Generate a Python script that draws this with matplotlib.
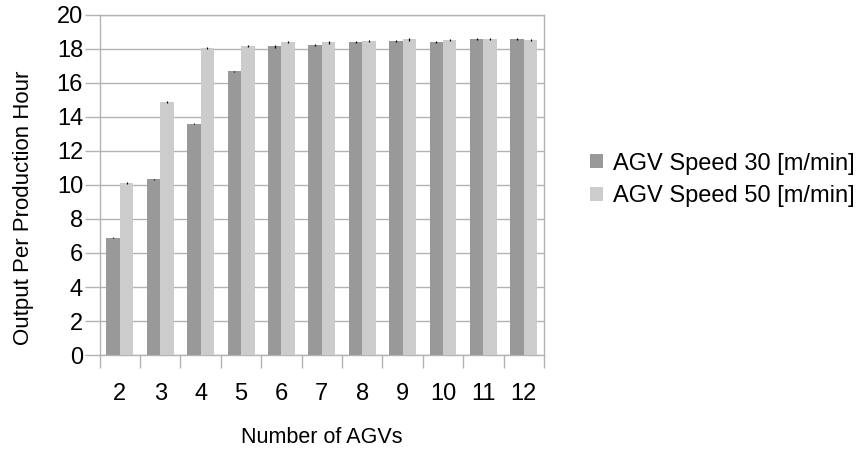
import matplotlib.pyplot as plt
import numpy as np

plt.rcParams['font.family'] = ['Liberation Sans', 'DejaVu Sans']

# number of AGVs on the x axis
agv_counts = ["2", "3", "4", "5", "6", "7", "8", "9", "10", "11", "12"]

# output per production hour for each AGV speed
speed30 = [6.9, 10.33, 13.6, 16.67, 18.15, 18.25, 18.42, 18.47, 18.4, 18.57, 18.57]
speed50 = [10.1, 14.88, 18.05, 18.15, 18.42, 18.38, 18.45, 18.57, 18.52, 18.58, 18.52]

# small error bars on top of each bar
err30 = [0.04, 0.03, 0.04, 0.05, 0.08, 0.06, 0.07, 0.08, 0.08, 0.07, 0.06]
err50 = [0.05, 0.05, 0.07, 0.06, 0.07, 0.08, 0.07, 0.08, 0.08, 0.08, 0.08]

fig = plt.figure(figsize=(8.56, 4.5), dpi=100)
ax = fig.add_axes([0.1165, 0.211, 0.519, 0.756])

x = np.arange(len(agv_counts))
w = 1 / 3
grid_col = "#b3b3b3"

ax.bar(x - w / 2, speed30, w, color="#999999", label="AGV Speed 30 [m/min]",
       yerr=err30, error_kw=dict(ecolor="black", elinewidth=0.9, capsize=0), zorder=3)
ax.bar(x + w / 2, speed50, w, color="#cccccc", label="AGV Speed 50 [m/min]",
       yerr=err50, error_kw=dict(ecolor="black", elinewidth=0.9, capsize=0), zorder=3)

ax.set_xlim(-0.5, len(agv_counts) - 0.5)
ax.set_ylim(0, 20)
ax.set_yticks(np.arange(0, 21, 2))
ax.yaxis.grid(True, color=grid_col, linewidth=1)
ax.set_axisbelow(True)

# category labels in the middle, tick marks at the boundaries
ax.set_xticks(x)
ax.set_xticklabels(agv_counts)
ax.set_xticks(np.arange(-0.5, len(agv_counts)), minor=True)
ax.tick_params(axis="x", which="major", length=0, pad=20, labelsize=17)
ax.tick_params(axis="x", which="minor", length=9, color=grid_col, width=1)
ax.tick_params(axis="y", length=11, color=grid_col, width=1, labelsize=17, pad=1)

for s in ax.spines.values():
    s.set_color(grid_col)
    s.set_linewidth(1)

ax.set_xlabel("Number of AGVs", fontsize=15.5, labelpad=16)
ax.set_ylabel("Output Per Production Hour", fontsize=16)
ax.yaxis.set_label_coords(-0.149, 0.432)

ax.legend(loc="center left", bbox_to_anchor=(1.104, 0.515), frameon=False,
          fontsize=17, handlelength=0.55, handleheight=0.55, handletextpad=0.42,
          labelspacing=0.45, borderpad=0, borderaxespad=0)

fig.savefig("out.png", dpi=100)
